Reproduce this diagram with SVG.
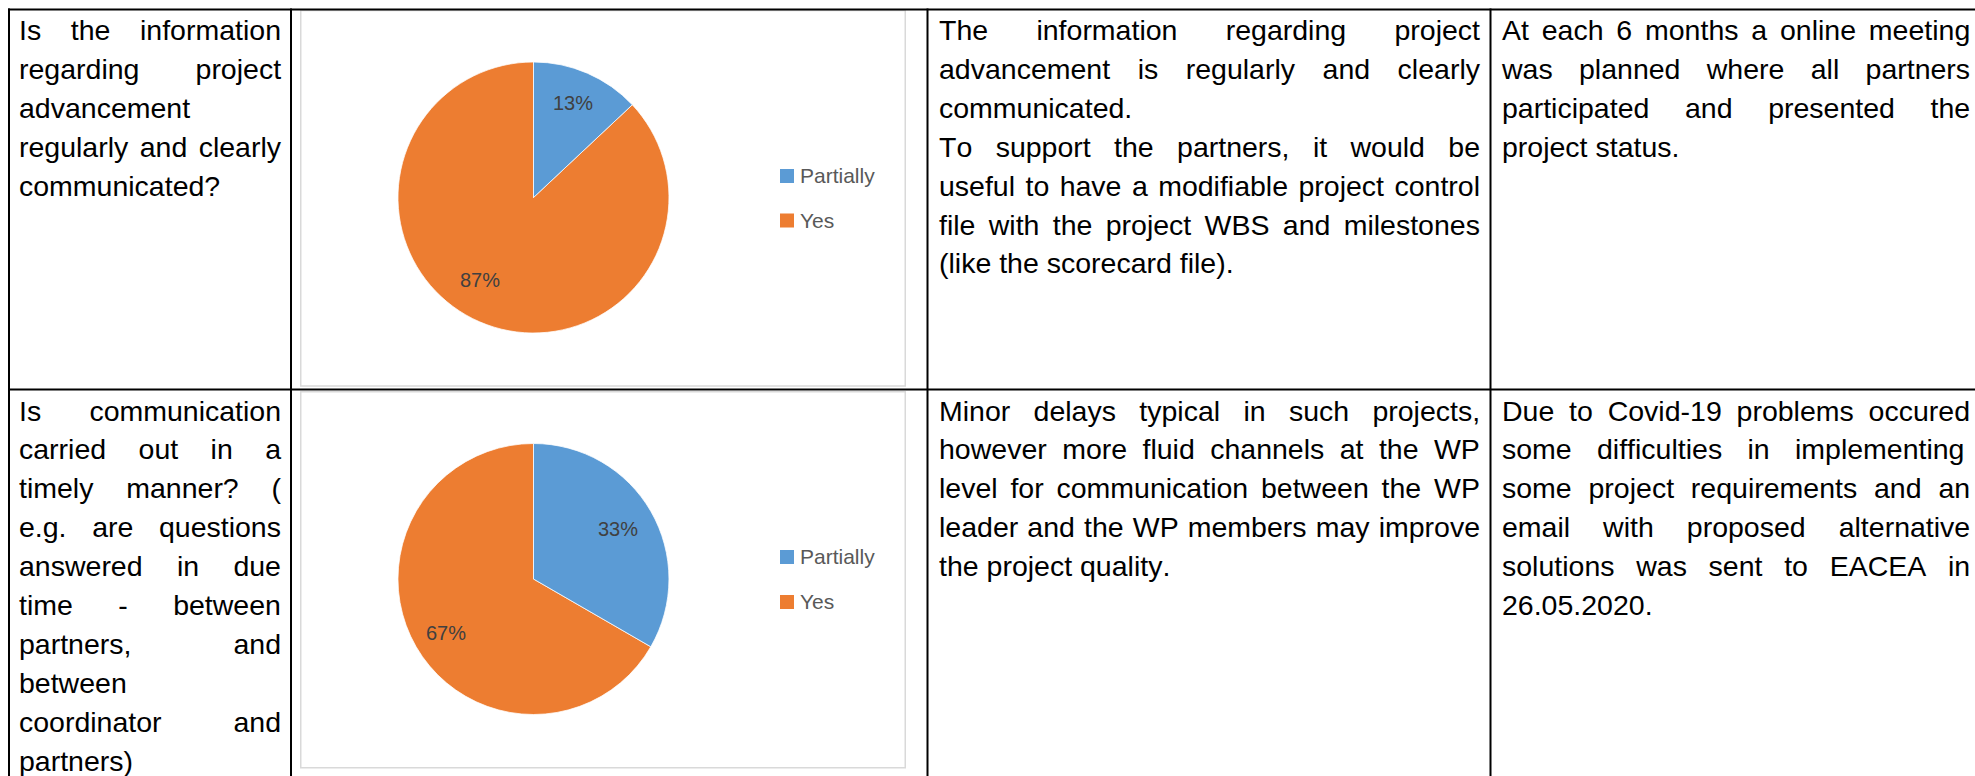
<svg xmlns="http://www.w3.org/2000/svg" width="1975" height="776" viewBox="0 0 1975 776">
<style>
.t { font-family: "Liberation Sans", Arial, sans-serif; font-size: 28.5px; fill: #000; font-kerning: none; }
.lbl { font-family: "Liberation Sans", Arial, sans-serif; font-size: 20px; fill: #404040; }
.leg { font-family: "Liberation Sans", Arial, sans-serif; font-size: 21px; fill: #595959; }
.grid { stroke: #000; stroke-width: 2; fill: none; }
.frame { fill: #fff; stroke: #d9d9d9; stroke-width: 1.5; }
.blue { fill: #5B9BD5; stroke: #fff; stroke-width: 0.75; }
.orange { fill: #ED7D31; stroke: #fff; stroke-width: 0.75; }
.sqb { fill: #5B9BD5; }
.sqo { fill: #ED7D31; }
</style>
<rect width="1975" height="776" fill="#fff"/>

<g id="q1">
<text class="t" x="19" y="40" word-spacing="21.7">Is the information</text>
<text class="t" x="19" y="78.9" word-spacing="48.2">regarding project</text>
<text class="t" x="19" y="117.8">advancement</text>
<text class="t" x="19" y="156.7" word-spacing="3.5">regularly and clearly</text>
<text class="t" x="19" y="195.6">communicated?</text>
</g>

<g id="chart1">
<rect class="frame" x="300.75" y="10.5" width="604.5" height="375.5"/>
<path class="orange" d="M533.5,197.5 L632.3,104.8 A135.5,135.5 0 1 1 533.5,62 Z"/>
<path class="blue" d="M533.5,197.5 L533.5,62 A135.5,135.5 0 0 1 632.3,104.8 Z"/>
<text class="lbl" x="553" y="110">13%</text>
<text class="lbl" x="460" y="287">87%</text>
<rect class="sqb" x="780" y="169" width="14" height="14"/>
<text class="leg" x="800" y="183">Partially</text>
<rect class="sqo" x="780" y="213.5" width="14" height="14"/>
<text class="leg" x="800" y="228">Yes</text>
</g>

<g id="comment1">
<text class="t" x="939" y="40" word-spacing="40.4">The information regarding project</text>
<text class="t" x="939" y="78.9" word-spacing="19.6">advancement is regularly and clearly</text>
<text class="t" x="939" y="117.8">communicated.</text>
<text class="t" x="939" y="156.7" word-spacing="15.45">To support the partners, it would be</text>
<text class="t" x="939" y="195.6" word-spacing="2.5">useful to have a modifiable project control</text>
<text class="t" x="939" y="234.5" word-spacing="5.4">file with the project WBS and milestones</text>
<text class="t" x="939" y="273.4">(like the scorecard file).</text>
</g>

<g id="action1">
<text class="t" x="1502" y="40" word-spacing="4.9">At each 6 months a online meeting</text>
<text class="t" x="1502" y="78.9" word-spacing="18.4">was planned where all partners</text>
<text class="t" x="1502" y="117.8" word-spacing="27.7">participated and presented the</text>
<text class="t" x="1502" y="156.7">project status.</text>
</g>

<g id="q2">
<text class="t" x="19" y="420.5" word-spacing="40.3">Is communication</text>
<text class="t" x="19" y="459.4" word-spacing="24.5">carried out in a</text>
<text class="t" x="19" y="498.3" word-spacing="24.9">timely manner? (</text>
<text class="t" x="19" y="537.2" word-spacing="17.7">e.g. are questions</text>
<text class="t" x="19" y="576.1" word-spacing="26.4">answered in due</text>
<text class="t" x="19" y="615" word-spacing="37.5">time - between</text>
<text class="t" x="19" y="653.9" word-spacing="94.1">partners, and</text>
<text class="t" x="19" y="692.8">between</text>
<text class="t" x="19" y="731.7" word-spacing="64">coordinator and</text>
<text class="t" x="19" y="770.6">partners)</text>
</g>

<g id="chart2">
<rect class="frame" x="300.75" y="391.75" width="604.5" height="376"/>
<path class="orange" d="M533.5,579 L650.8,646.75 A135.5,135.5 0 1 1 533.5,443.5 Z"/>
<path class="blue" d="M533.5,579 L533.5,443.5 A135.5,135.5 0 0 1 650.8,646.75 Z"/>
<text class="lbl" x="598" y="535.7">33%</text>
<text class="lbl" x="426" y="640">67%</text>
<rect class="sqb" x="780" y="550" width="14" height="14"/>
<text class="leg" x="800" y="564">Partially</text>
<rect class="sqo" x="780" y="595" width="14" height="14"/>
<text class="leg" x="800" y="609">Yes</text>
</g>

<g id="comment2">
<text class="t" x="939" y="420.5" word-spacing="15.4">Minor delays typical in such projects,</text>
<text class="t" x="939" y="459.4" word-spacing="7.5">however more fluid channels at the WP</text>
<text class="t" x="939" y="498.3" word-spacing="4.9">level for communication between the WP</text>
<text class="t" x="939" y="537.2" word-spacing="1.2">leader and the WP members may improve</text>
<text class="t" x="939" y="576.1">the project quality.</text>
</g>

<g id="action2">
<text class="t" x="1502" y="420.5" word-spacing="6.9">Due to Covid-19 problems occured</text>
<text class="t" x="1502" y="459.4" word-spacing="17.4">some difficulties in implementing</text>
<text class="t" x="1502" y="498.3" word-spacing="8.9">some project requirements and an</text>
<text class="t" x="1502" y="537.2" word-spacing="25.1">email with proposed alternative</text>
<text class="t" x="1502" y="576.1" word-spacing="13.8">solutions was sent to EACEA in</text>
<text class="t" x="1502" y="615">26.05.2020.</text>
</g>

<g id="connectors">
<line class="grid" x1="8" y1="9.5" x2="1975" y2="9.5"/>
<line class="grid" x1="8" y1="389.5" x2="1975" y2="389.5"/>
<line class="grid" x1="9" y1="8.5" x2="9" y2="776"/>
<line class="grid" x1="291" y1="8.5" x2="291" y2="776"/>
<line class="grid" x1="927.5" y1="8.5" x2="927.5" y2="776"/>
<line class="grid" x1="1490.5" y1="8.5" x2="1490.5" y2="776"/>
</g>
</svg>
